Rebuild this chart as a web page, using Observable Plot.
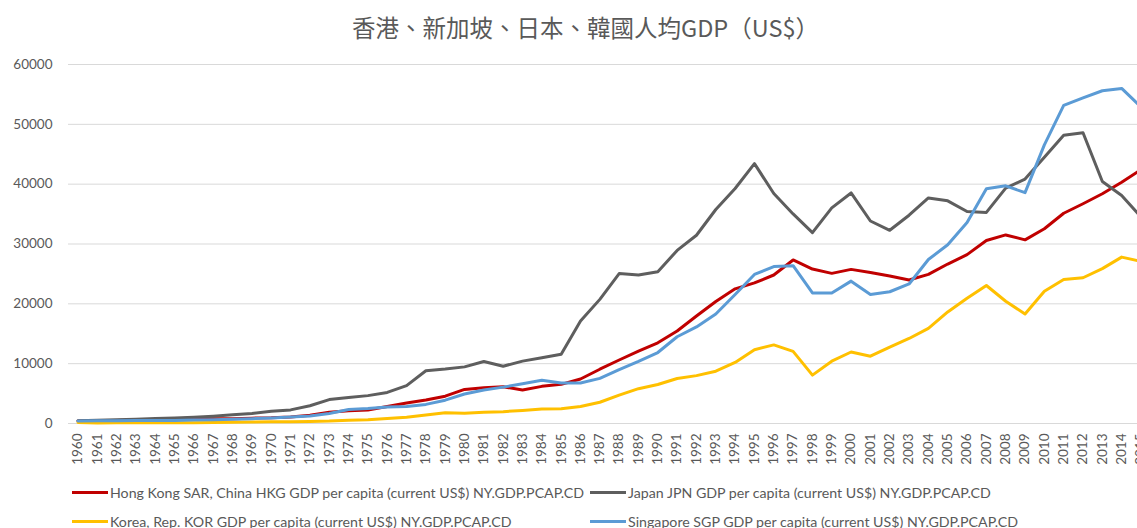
<!DOCTYPE html>
<html><head><meta charset="utf-8">
<script src="https://cdn.jsdelivr.net/npm/d3@7"></script>
<script src="https://cdn.jsdelivr.net/npm/@observablehq/plot@0.6"></script>
<style>
html,body{margin:0;padding:0;background:#fff;overflow:hidden;width:1137px;height:528px;position:relative;}
#title{height:50px;width:1137px;box-sizing:border-box;padding-left:34px;text-align:center;font-family:"Noto Sans CJK TC","Noto Sans CJK SC",sans-serif;font-size:23.5px;color:#595959;line-height:54px;}
#chart svg{display:block;overflow:hidden;}
#legend{position:absolute;left:0;top:480px;width:1137px;height:48px;font-family:Lato,sans-serif;font-size:14.2px;color:#595959;}
.item{position:absolute;height:20px;display:flex;align-items:center;white-space:nowrap;}
.sw{width:36px;height:3px;margin-right:2px;flex:none;}
</style></head>
<body>
<div id="title">香港、新加坡、日本、韓國人均GDP（US$）</div>
<div id="chart"></div>
<div id="legend"></div>
<script>
const years = [1960,1961,1962,1963,1964,1965,1966,1967,1968,1969,1970,1971,1972,1973,1974,1975,1976,1977,1978,1979,1980,1981,1982,1983,1984,1985,1986,1987,1988,1989,1990,1991,1992,1993,1994,1995,1996,1997,1998,1999,2000,2001,2002,2003,2004,2005,2006,2007,2008,2009,2010,2011,2012,2013,2014,2015];
const hkg = [429,445,500,585,635,713,730,777,780,894, 960,1100,1380,1881,2112,2252,2843,3410,3925,4569, 5700,5991,6134,5595,6208,6543,7435,9071,10610,12098, 13486,15466,17976,20396,22503,23497,24818,27330,25809,25092, 25757,25230,24666,23977,24928,26650,28224,30594,31516,30697, 32550,35142,36731,38404,40315,42431];
const jpn = [479,564,634,718,836,919,1059,1229,1451,1669, 2038,2272,2967,3997,4354,4659,5198,6335,8821,9105, 9463,10361,9578,10425,10984,11577,17113,20745,25051,24813, 25359,28925,31465,35766,39269,43440,38437,35022,31903,36027, 38532,33846,32289,34808,37689,37218,35434,35275,39339,40855, 44508,48168,48603,40454,38109,34524];
const kor = [158,94,106,146,124,109,133,161,198,243, 279,301,323,406,563,617,834,1056,1406,1784, 1704,1870,1977,2180,2411,2482,2835,3555,4748,5817, 6516,7523,8001,8741,10206,12333,13138,12059,8085,10409, 11948,11253,12782,14209,15908,18640,20917,23061,20431,18292, 22087,24080,24359,25890,27811,27105];
const sgp = [428,449,472,511,485,516,566,626,708,812, 925,1071,1264,1685,2342,2490,2758,2846,3194,3900, 4928,5596,6078,6633,7228,6755,6763,7539,9017,10394, 11862,14502,16136,18290,21553,24915,26233,26376,21829,21796, 23793,21577,22017,23320,27405,29870,33580,39224,39721,38577, 46570,53167,54431,55618,56007,52889];
const seriesNames = [
  "Hong Kong SAR, China HKG GDP per capita (current US$) NY.GDP.PCAP.CD",
  "Japan JPN GDP per capita (current US$) NY.GDP.PCAP.CD",
  "Korea, Rep. KOR GDP per capita (current US$) NY.GDP.PCAP.CD",
  "Singapore SGP GDP per capita (current US$) NY.GDP.PCAP.CD"
];
const seriesColors = ["#C00000", "#5E5E5E", "#FFC000", "#5B9BD5"];
const yTicks = [0,10000,20000,30000,40000,50000,60000];

const seriesValues = [hkg, jpn, kor, sgp];
const rows = [];
seriesValues.forEach((vals, s) => vals.forEach((v, i) => rows.push({year: years[i], value: v, series: seriesNames[s]})));

const plot = Plot.plot({
  width: 1137, height: 430,
  marginTop: 14, marginBottom: 57, marginLeft: 68, marginRight: 0,
  style: {fontFamily: "Lato, sans-serif", fontSize: "13.5px", color: "#595959", background: "#fff", overflow: "hidden"},
  x: {type: "linear", domain: [1960, 2015], range: [77.5, 1140.5], label: null},
  y: {domain: [0, 60000], label: null},
  color: {domain: seriesNames, range: seriesColors},
  marks: [
    Plot.gridY(yTicks, {stroke: "#d9d9d9", strokeOpacity: 1, strokeWidth: 1}),
    Plot.axisY(yTicks, {tickSize: 0, tickPadding: 16, tickFormat: d => String(d), label: null}),
    Plot.axisX(years, {tickSize: 0, tickPadding: 10, tickRotate: -90, tickFormat: d => String(d), label: null}),
    Plot.line(rows, {x: "year", y: "value", z: "series", stroke: "series", strokeWidth: 3, strokeLinejoin: "round", strokeLinecap: "round"})
  ]
});
document.getElementById("chart").appendChild(plot);

const legendPos = [[72, 2], [590, 2], [72, 31], [590, 31]];
const legend = document.getElementById("legend");
seriesNames.forEach((name, i) => {
  const it = document.createElement("div");
  it.className = "item";
  it.style.left = legendPos[i][0] + "px";
  it.style.top = legendPos[i][1] + "px";
  const sw = document.createElement("span");
  sw.className = "sw";
  sw.style.background = seriesColors[i];
  const tx = document.createElement("span");
  tx.textContent = name;
  it.appendChild(sw); it.appendChild(tx);
  legend.appendChild(it);
});
</script>
</body></html>
